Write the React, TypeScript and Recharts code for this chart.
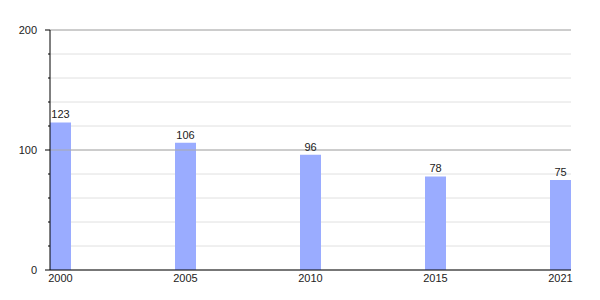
import { BarChart, Bar, XAxis, YAxis, CartesianGrid, ReferenceLine, LabelList } from 'recharts';

const years = ['2000', '2005', '2010', '2015', '2021'];
const values = [123, 106, 96, 78, 75];
const yTicks = [0, 20, 40, 60, 80, 100, 120, 140, 160, 180, 200];

const data = years.map((year, i) => ({ idx: i, year, value: values[i] }));

const font = 'Liberation Sans, Arial, sans-serif';

function YTick(props: any) {
  const { x, y, payload } = props;
  const major = payload.value % 100 === 0;
  const axisX = x + 13;
  return (
    <g>
      <line x1={axisX - (major ? 5 : 2)} x2={axisX} y1={y} y2={y} stroke="#000" />
      {major && (
        <text x={x} y={y} dy={4} textAnchor="end" fontSize={11} fontFamily={font} fill="#222">
          {payload.value}
        </text>
      )}
    </g>
  );
}

function App() {
  return (
    <div style={{ position: 'absolute', left: 0, top: 0 }}>
      <BarChart width={600} height={300} data={data} margin={{ top: 30, right: 29, bottom: 0, left: 0 }}>
        <CartesianGrid horizontal vertical={false} stroke="#e0e0e0" />
        <ReferenceLine y={100} stroke="#aaa" />
        <ReferenceLine y={200} stroke="#aaa" />
        <XAxis
          dataKey="idx"
          type="number"
          domain={[0, 4]}
          ticks={[0, 1, 2, 3, 4]}
          tickFormatter={(v: number) => years[v]}
          padding={{ left: 10.5, right: 10.5 }}
          height={30}
          tickLine={false}
          tickSize={0}
          axisLine={{ stroke: '#000' }}
          tickMargin={4}
          tick={{ fontSize: 11, fontFamily: font, fill: '#222' }}
        />
        <YAxis
          domain={[0, 200]}
          ticks={yTicks}
          interval={0}
          width={50}
          tickSize={0}
          tickMargin={13}
          axisLine={{ stroke: '#000' }}
          tick={<YTick />}
        />
        <Bar dataKey="value" fill="#9aacff" barSize={21} isAnimationActive={false}>
          <LabelList dataKey="value" position="top" offset={4} fontSize={11} fontFamily={font} fill="#222" />
        </Bar>
      </BarChart>
    </div>
  );
}

export default App;
